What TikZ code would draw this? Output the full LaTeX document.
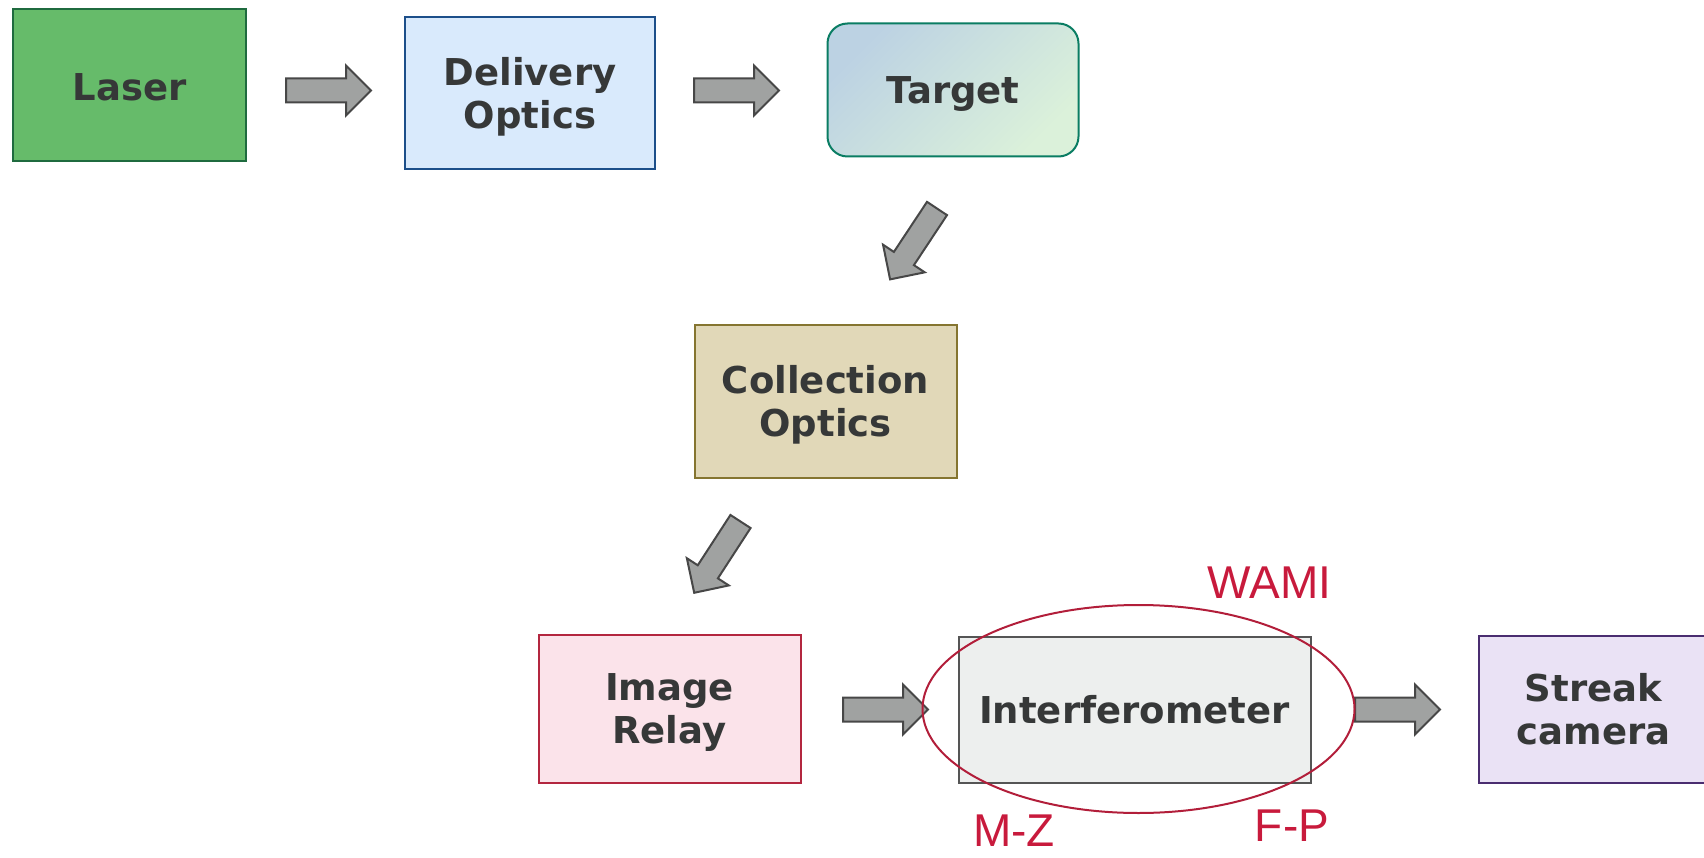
\documentclass[tikz,border=0pt]{standalone}
\usepackage{fontspec}
\usetikzlibrary{shapes.geometric}
\newfontfamily\boxfont{DejaVu Sans}
\newfontfamily\labelfont{Liberation Sans}

\definecolor{txt}{HTML}{363838}
\definecolor{laserfill}{HTML}{66BB6A}
\definecolor{laserline}{HTML}{1F6B3F}
\definecolor{delfill}{HTML}{D9EAFC}
\definecolor{delline}{HTML}{1C4F8A}
\definecolor{tgtline}{HTML}{0A7D63}
\definecolor{tgtA}{HTML}{BCD2E3}
\definecolor{tgtB}{HTML}{DBF1DA}
\definecolor{colfill}{HTML}{E1D8B8}
\definecolor{colline}{HTML}{857530}
\definecolor{imgfill}{HTML}{FBE3EA}
\definecolor{imgline}{HTML}{B3263F}
\definecolor{intfill}{HTML}{EDEFEE}
\definecolor{intline}{HTML}{555555}
\definecolor{strfill}{HTML}{EAE2F5}
\definecolor{strline}{HTML}{4A2D70}
\definecolor{arrfill}{HTML}{A0A2A1}
\definecolor{arrline}{HTML}{474747}
\definecolor{labred}{HTML}{C81A3C}
\definecolor{ringred}{HTML}{B21E3A}

\tikzset{
  stagebox/.style={draw, line width=2pt, inner sep=0pt},
  stagetext/.style={inner sep=0pt, align=center, text=txt,
    font=\boxfont\bfseries\fontsize{37}{43}\selectfont},
  redlabel/.style={text=labred, inner sep=0pt, anchor=base,
    font=\labelfont\fontsize{46}{50}\selectfont},
  blockarrow/.pic={
    \path[fill=arrfill, draw=arrline, line width=2pt, line join=miter]
      (0,-12) -- (60,-12) -- (60,-25) -- (85,0) -- (60,25) -- (60,12) -- (0,12) -- cycle;
  }
}

\begin{document}
\begin{tikzpicture}[x=1pt, y=-1pt]
  \useasboundingbox (0,0) rectangle (1704,858);
  \begin{scope}
  \clip (0,0) rectangle (1704,858);

  % top row
  \node[stagebox, fill=laserfill, draw=laserline, minimum width=233, minimum height=152]
    (laser) at (129.5,85) {};
  \node[stagebox, fill=delfill, draw=delline, minimum width=250, minimum height=152]
    (delivery) at (530,93.5) {};
  \node[stagebox, draw=tgtline, rounded corners=20pt, top color=tgtA, bottom color=tgtB,
    shading angle=45, minimum width=251, minimum height=133]
    (target) at (953,90) {};

  % middle
  \node[stagebox, fill=colfill, draw=colline, minimum width=262, minimum height=152]
    (collection) at (825.5,401.5) {};

  % bottom row
  \node[stagebox, fill=imgfill, draw=imgline, minimum width=262, minimum height=148]
    (relay) at (669.5,708.5) {};
  \node[stagebox, fill=intfill, draw=intline, minimum width=352, minimum height=146]
    (interf) at (1134.5,709.5) {};
  \node[stagebox, fill=strfill, draw=strline, minimum width=229, minimum height=147]
    (streak) at (1593.5,709) {};

  % stage names
  \node[stagetext] (laser-t) at ([yshift=-2pt]laser.center) {Laser};
  \node[stagetext] (delivery-t) at ([yshift=-3pt]delivery.center) {Delivery\\Optics};
  \node[stagetext] (target-t) at ([yshift=-4pt]target.center) {Target};
  \node[stagetext] (collection-t) at ([yshift=-3pt]collection.center) {Collection\\Optics};
  \node[stagetext] (relay-t) at ([yshift=-4pt]relay.center) {Image\\Relay};
  \node[stagetext] (interf-t) at (interf.center) {Interferometer};
  \node[stagetext] (streak-t) at (streak.center) {Streak\\camera};

  % block arrows between the stages
  \pic (arrA) at (286,90.5) {blockarrow};
  \pic (arrB) at (694,90.5) {blockarrow};
  \pic[rotate=-123.5] (arrC) at (937,208.5) {blockarrow};
  \pic[rotate=-123] (arrD) at (740.5,521.5) {blockarrow};
  \pic (arrE) at (843,709.5) {blockarrow};
  \pic (arrF) at (1355,709.5) {blockarrow};

  % interferometer family ring and labels
  \node[ellipse, draw=ringred, line width=2pt, minimum width=432, minimum height=208,
    inner sep=0pt] (ring) at (1138.5,709) {};
  \node[redlabel] (wami) at (1269.5,598) {WAMI};
  \node[redlabel] (mz) at (1014,846) {M-Z};
  \node[redlabel] (fp) at (1292,841) {F-P};
  \end{scope}
\end{tikzpicture}
\end{document}
